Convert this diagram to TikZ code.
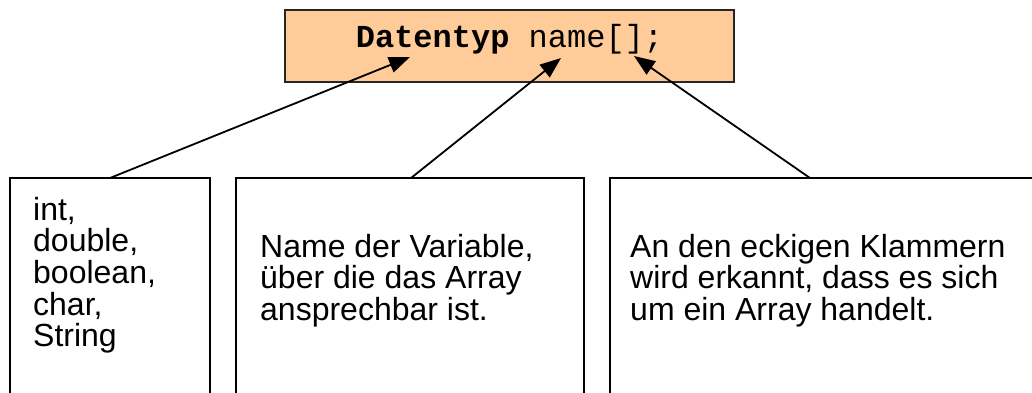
\documentclass[tikz,border=0pt]{standalone}
\usepackage{fontspec}
\setmainfont{Liberation Sans}
\newfontfamily\courfont{Liberation Mono}
\usetikzlibrary{arrows.meta}
\definecolor{peach}{HTML}{FFCC99}
\begin{document}
\begin{tikzpicture}[x=1pt,y=-1pt,
  declbox/.style={draw=black!85,line width=2pt,fill=peach,inner sep=0pt,
    minimum width=449pt,minimum height=72pt},
  infobox/.style={draw=black,line width=1.5pt,inner sep=0pt,minimum height=242pt},
  infotext/.style={anchor=base west,inner sep=0pt,font=\fontsize{32}{31.7}\selectfont},
  decltext/.style={anchor=base,inner sep=0pt,font=\fontsize{32}{31.7}\courfont},
  pointer/.style={line width=1.8pt,-{Triangle[length=21pt,width=16pt]}}]
\useasboundingbox (0,0) rectangle (1032,392);
% top declaration box
\node (decl) [declbox] at (509.5,46) {};
\node (declt) [decltext] at (509.5,47) {\textbf{Datentyp} name[];};
% lower boxes (running off the page at the bottom / right)
\node (b1) [infobox,minimum width=200pt] at (110,299) {};
\node (b2) [infobox,minimum width=348pt] at (410,299) {};
\node (b3) [infobox,minimum width=460pt] at (840,299) {};
% texts
\node (t1) [infotext] at (33,220) {\vtop{\baselineskip=31.7pt
  \hbox{int,}\hbox{double,}\hbox{boolean,}\hbox{char,}\hbox{String}}};
\node (t2) [infotext] at (260,257) {\vtop{\baselineskip=31.7pt
  \hbox{Name der Variable,}\hbox{über die das Array}\hbox{ansprechbar ist.}}};
\node (t3) [infotext] at (630,257) {\vtop{\baselineskip=31.7pt
  \hbox{An den eckigen Klammern}\hbox{wird erkannt, dass es sich}\hbox{um ein Array handelt.}}};
% connector ends
\coordinate (s1) at (110,178);
\coordinate (s2) at (411,178);
\coordinate (s3) at (810,178);
\coordinate (e1) at (410,57);
\coordinate (e2) at (561,58);
\coordinate (e3) at (634,56);
\draw[pointer] (s1) -- (e1);
\draw[pointer] (s2) -- (e2);
\draw[pointer] (s3) -- (e3);
\end{tikzpicture}
\end{document}
